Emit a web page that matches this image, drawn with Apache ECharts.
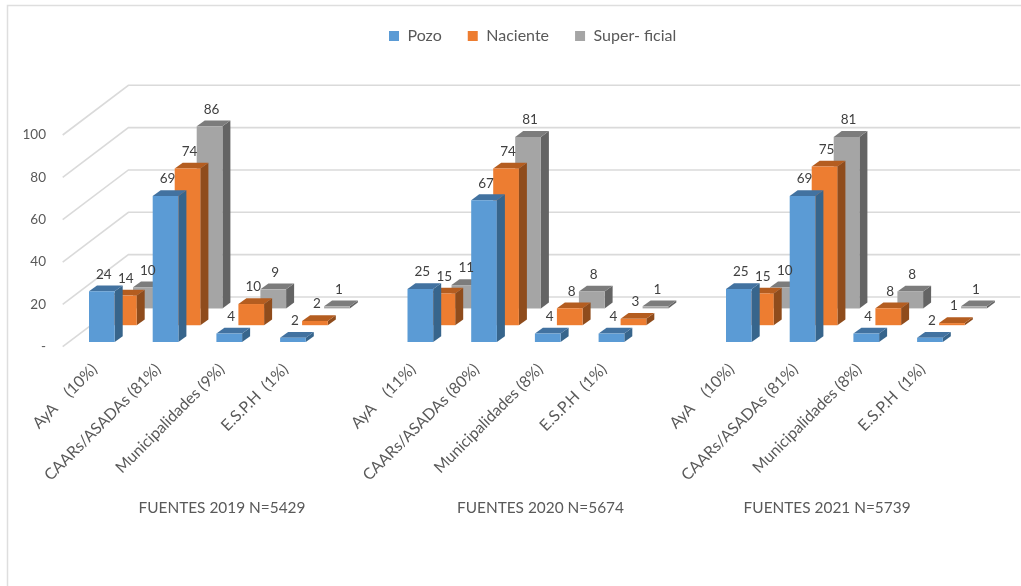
<!DOCTYPE html>
<html>
<head>
<meta charset="utf-8">
<style>html,body{margin:0;padding:0;background:#fff}#c{width:1021px;height:586px}</style>
<script src="https://cdn.jsdelivr.net/npm/echarts@6/dist/echarts.min.js"></script>
</head>
<body>
<div id="c"></div>
<script>
const categories = ['AyA    (10%)','CAARs/ASADAs (81%)','Municipalidades (9%)','E.S.P.H  (1%)','',
  'AyA    (11%)','CAARs/ASADAs (80%)','Municipalidades (8%)','E.S.P.H  (1%)','',
  'AyA    (10%)','CAARs/ASADAs (81%)','Municipalidades (8%)','E.S.P.H  (1%)'];
const seriesNames = ['Pozo','Naciente','Super- ficial'];
const pozo =     [24,69,4,2,null,25,67,4,4,null,25,69,4,2];
const naciente = [14,74,10,2,null,15,74,8,3,null,15,75,8,1];
const superficial=[10,86,9,1,null,11,81,8,1,null,10,81,8,1];
const yTicks = [0,20,40,60,80,100];
const groupTitles = ['FUENTES 2019 N=5429','FUENTES 2020 N=5674','FUENTES 2021 N=5739'];
const groupFirst = [0,5,10];
const groupLast = [4,9,13];

const FONT = 'Lato';
const TEXT = '#595959';
const faces = [
  {front:'#5B9BD5', side:'#37658C', top:'#4272A0'},
  {front:'#ED7D31', side:'#8F4C1C', top:'#B45D20'},
  {front:'#A5A5A5', side:'#646464', top:'#7C7C7C'}
];
const DEPTH = {dx:65.7, dy:-49.7};          // wall depth
const SLOT  = {dx:22,   dy:-16.8};          // one series row
const BAR   = {w:25.7,  dx:8,  dy:-5.8};    // bar front width & depth
const INSET = {dx:7.3,  dy:-4.7};           // first row inset from the front edge

const values = [pozo, naciente, superficial];

function barItem(row){
  return function(params, api){
    const v = api.value(1);
    if (v == null || isNaN(v)) return null;
    const c0 = api.coord([api.value(0), 0]);
    const c1 = api.coord([api.value(0), v]);
    const x0 = c0[0] - BAR.w/2 + INSET.dx + row*SLOT.dx;
    const x1 = x0 + BAR.w;
    const off = INSET.dy + row*SLOT.dy;
    const yb = c0[1] + off, yt = c1[1] + off;
    const f = faces[row];
    const poly = (pts, fill) => ({type:'polygon', shape:{points:pts}, style:{fill:fill, stroke:null}});
    return {type:'group', children:[
      poly([[x1,yb],[x1+BAR.dx,yb+BAR.dy],[x1+BAR.dx,yt+BAR.dy],[x1,yt]], f.side),
      poly([[x0,yt],[x1,yt],[x1+BAR.dx,yt+BAR.dy],[x0+BAR.dx,yt+BAR.dy]], f.top),
      poly([[x0,yb],[x1,yb],[x1,yt],[x0,yt]], f.front)
    ]};
  };
}
function labelItem(row){
  return function(params, api){
    const v = api.value(1);
    if (v == null || isNaN(v)) return null;
    const c1 = api.coord([api.value(0), v]);
    return {type:'text', style:{
      text:String(v), x:c1[0] + INSET.dx + row*SLOT.dx + 2, y:c1[1] + INSET.dy + row*SLOT.dy - 17,
      align:'center', verticalAlign:'middle', font:'13.5px '+FONT, fill:'#404040'}};
  };
}
function gridItem(params, api){
  const c = api.coord([0, api.value(0)]);
  const x0 = api.coord([0,0])[0] - (api.size([1,0])[0])/2;
  const x1 = x0 + api.size([1,0])[0]*categories.length;
  return {type:'polyline', shape:{points:[[x0,c[1]],[x0+DEPTH.dx,c[1]+DEPTH.dy],[x1+DEPTH.dx,c[1]+DEPTH.dy]]},
    style:{stroke:'#DADADA', lineWidth:1.6, fill:null}};
}
function titleItem(params, api){
  const a = api.coord([api.value(0), 0]);
  const b = api.coord([api.value(1), 0]);
  return {type:'text', style:{text:groupTitles[params.dataIndex], x:(a[0]+b[0])/2, y:a[1]+161.5,
    align:'center', verticalAlign:'middle', font:'15.4px '+FONT, fill:TEXT}};
}

const series = [{
  type:'custom', name:'walls', silent:true, z:1, renderItem:gridItem, clip:false,
  encode:{y:0}, data:yTicks.map(v=>[v])
}];
// back rows first so that nearer rows cover them
[2,1,0].forEach(row=>{
  series.push({type:'custom', name:seriesNames[row], z:5-row+1, silent:true, clip:false,
    itemStyle:{color:faces[row].front}, renderItem:barItem(row),
    encode:{x:0,y:1}, data:values[row].map((v,i)=>[i,v])});
});
[0,1,2].forEach(row=>{
  series.push({type:'custom', name:'labels'+row, z:20, silent:true, clip:false, renderItem:labelItem(row),
    encode:{x:0,y:1}, data:values[row].map((v,i)=>[i,v])});
});
series.push({type:'custom', name:'titles', z:20, silent:true, clip:false, renderItem:titleItem,
  encode:{x:0}, data:groupFirst.map((c,i)=>[c,groupLast[i]])});

const chart = echarts.init(document.getElementById('c'), null, {renderer:'canvas'});
chart.setOption({
  animation:false,
  backgroundColor:'#fff',
  textStyle:{fontFamily:FONT},
  graphic:[{type:'rect', silent:true, z:0, shape:{x:7.5,y:5.5,width:1030,height:600},
    style:{fill:null, stroke:'#DEDEDE', lineWidth:1.5}}],
  legend:{
    data:seriesNames, top:23, left:384, itemWidth:10, itemHeight:10, itemGap:26,
    icon:'rect', selectedMode:false,
    textStyle:{fontFamily:FONT, fontSize:16, color:TEXT, padding:[0,0,0,3.5]}
  },
  grid:{left:62.7, top:135, width:891.8, height:211.7, containLabel:false},
  xAxis:{type:'category', data:categories, axisLine:{show:false}, axisTick:{show:false}, splitLine:{show:false},
    axisLabel:{rotate:45, interval:0, margin:20, fontFamily:FONT, fontSize:15.8, color:TEXT, hideOverlap:false}},
  yAxis:{type:'value', min:0, max:100, interval:20, axisLine:{show:false}, axisTick:{show:false}, splitLine:{show:false},
    axisLabel:{margin:16.7, fontFamily:FONT, fontSize:13.5, color:TEXT, formatter:v=>v===0?'-':String(v)}},
  series:series
});
</script>
</body>
</html>
